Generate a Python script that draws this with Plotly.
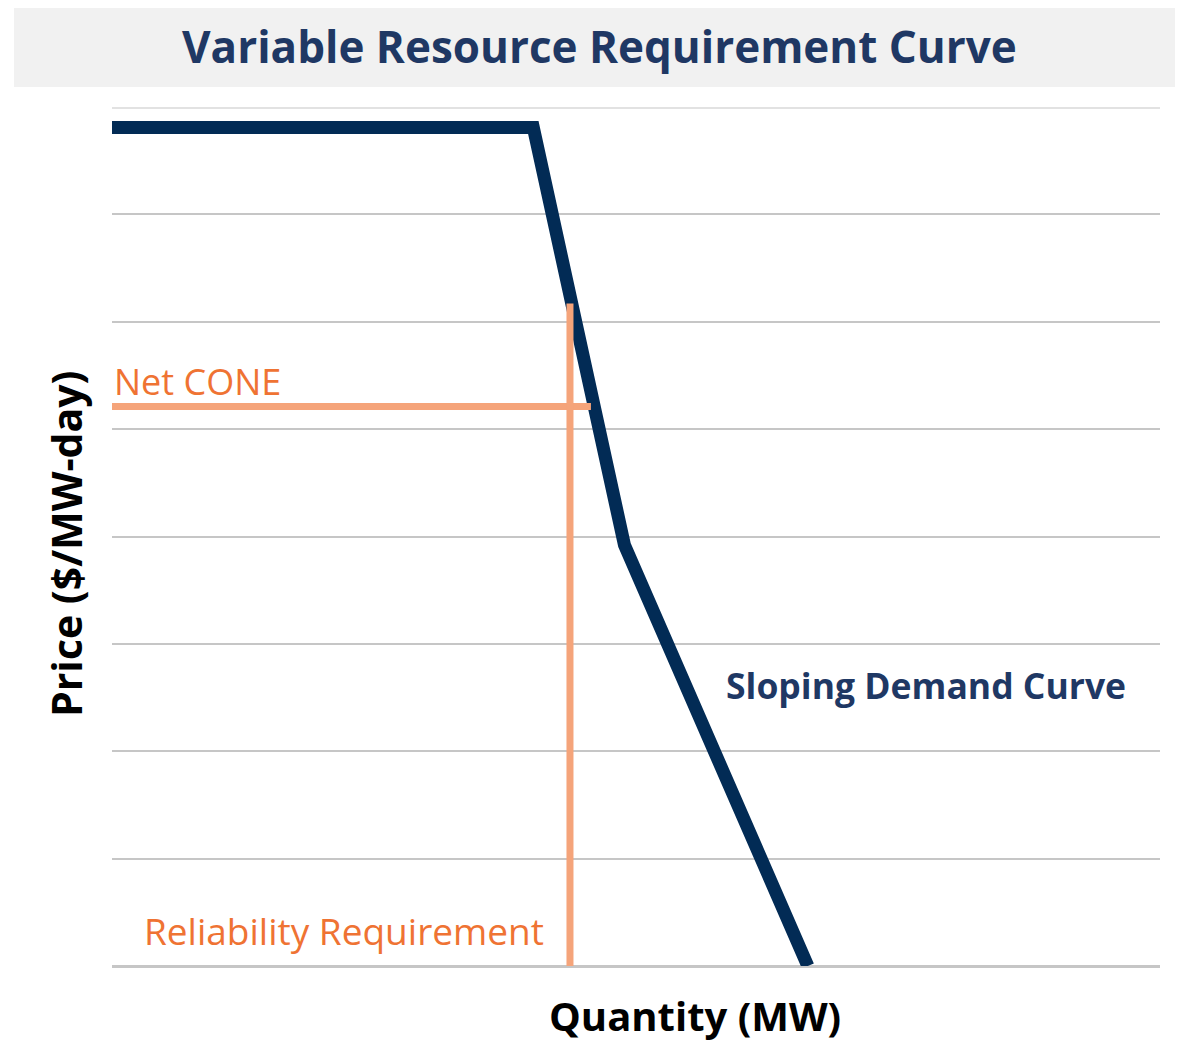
import plotly.graph_objects as go

# Demand curve (x: quantity on 0-100 scale, y: price on 0-8 scale)
curve_x = [0, 40.2, 48.9, 66.4]
curve_y = [7.81, 7.81, 3.92, 0]

# Net CONE horizontal line
net_cone_x = [0, 45.7]
net_cone_y = [5.21, 5.21]

# Reliability requirement vertical line
rel_x = [43.7, 43.7]
rel_y = [6.17, 0]

OFF = 8  # browser default body margin
W, H = 1183 - OFF, 1047 - OFF
L, T = 112 - OFF, 107 - OFF
R, B = 23, 81
pw, ph = W - L - R, H - T - B

def px(x):
    return (x - OFF - L) / pw

def py(y):
    return (H - B - (y - OFF)) / ph

FONT = "Open Sans"
NAVY = "#1f3864"
ORANGE = "#ef7333"

fig = go.Figure()
fig.add_trace(go.Scatter(x=curve_x, y=curve_y, mode="lines",
                         line=dict(color="#022b55", width=13), hoverinfo="skip"))
fig.add_trace(go.Scatter(x=net_cone_x, y=net_cone_y, mode="lines",
                         line=dict(color="#f5a47a", width=7), hoverinfo="skip"))
fig.add_trace(go.Scatter(x=rel_x, y=rel_y, mode="lines",
                         line=dict(color="#f5a47a", width=7), hoverinfo="skip"))

shapes = [
    dict(type="rect", xref="paper", yref="paper", x0=px(14), x1=px(1190), y0=py(87), y1=py(4),
         fillcolor="#f1f1f1", line=dict(width=0), layer="below"),
    dict(type="line", xref="paper", yref="y", x0=0, x1=1, y0=8, y1=8,
         line=dict(color="#e2e2e2", width=4), layer="above"),
]

annotations = [
    dict(text="<b>Variable Resource Requirement Curve</b>", xref="paper", yref="paper",
         x=px(599), y=py(46), showarrow=False, xanchor="center", yanchor="middle",
         font=dict(family=FONT, size=44, color=NAVY)),
    dict(text="Net CONE", xref="x", yref="y", x=0.0, y=5.44, showarrow=False,
         xanchor="left", yanchor="middle", font=dict(family=FONT, size=36, color=ORANGE)),
    dict(text="Reliability Requirement", xref="x", yref="y", x=2.9, y=0.335, showarrow=False,
         xanchor="left", yanchor="middle", font=dict(family=FONT, size=37, color=ORANGE)),
    dict(text="<b>Sloping Demand Curve</b>", xref="x", yref="y", x=58.4, y=2.62, showarrow=False,
         xanchor="left", yanchor="middle", font=dict(family=FONT, size=35.5, color=NAVY)),
    dict(text="<b>Quantity (MW)</b>", xref="paper", yref="paper", x=px(695), y=py(1015),
         showarrow=False, xanchor="center", yanchor="middle",
         font=dict(family=FONT, size=40, color="#000000")),
    dict(text="<b>Price ($/MW-day)</b>", xref="paper", yref="paper", x=px(66), y=py(544),
         showarrow=False, xanchor="center", yanchor="middle", textangle=-90,
         font=dict(family=FONT, size=41, color="#000000")),
]

fig.update_layout(
    width=W, height=H,
    margin=dict(l=L, r=R, t=T, b=B),
    paper_bgcolor="white", plot_bgcolor="white",
    showlegend=False,
    shapes=shapes, annotations=annotations,
    xaxis=dict(range=[0, 100], showgrid=False, zeroline=False, showticklabels=False,
               showline=False, fixedrange=True),
    yaxis=dict(range=[0, 8], dtick=1, showgrid=True, gridcolor="#c6c6c6", gridwidth=2,
               zeroline=True, zerolinecolor="#c6c6c6", zerolinewidth=3,
               showticklabels=False, showline=False, fixedrange=True),
)

fig.write_html("out.html")
